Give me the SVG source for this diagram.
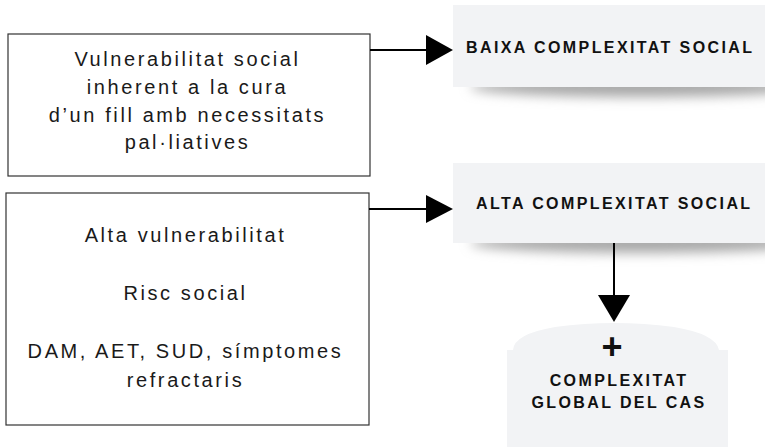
<svg xmlns="http://www.w3.org/2000/svg" width="765" height="447" viewBox="0 0 765 447">
  <defs>
    <style>
      .src { fill: #ffffff; stroke: #333333; stroke-width: 1.2; }
      .src-text { font-family: "Liberation Sans", Arial, sans-serif; font-size: 20px; letter-spacing: 2.6px; fill: #1a1a1a; text-anchor: middle; }
      .card { fill: #f2f3f5; }
      .card-text { font-family: "Liberation Sans", Arial, sans-serif; font-size: 16px; font-weight: bold; letter-spacing: 2.4px; fill: #111111; }
      .wire { stroke: #000000; stroke-width: 2; fill: none; }
      .head { fill: #000000; }
      .shade { fill: #a8a8a8; filter: url(#soft); }
    </style>
    <filter id="soft" x="-20%" y="-200%" width="140%" height="500%">
      <feGaussianBlur stdDeviation="6"/>
    </filter>
    <clipPath id="belowTop"><rect x="440" y="87" width="325" height="30"/></clipPath>
    <clipPath id="belowMid"><rect x="440" y="243" width="325" height="30"/></clipPath>
  </defs>

  <!-- left source boxes -->
  <g id="node-vulnerabilitat">
    <rect class="src" x="8" y="34" width="362" height="142"/>
    <text class="src-text" x="187.5" y="66">Vulnerabilitat social</text>
    <text class="src-text" x="187.5" y="94">inherent a la cura</text>
    <text class="src-text" x="187.5" y="122">d’un fill amb necessitats</text>
    <text class="src-text" x="187.5" y="149">pal·liatives</text>
  </g>

  <g id="node-alta-vulnerabilitat">
    <rect class="src" x="6" y="193" width="363" height="232"/>
    <text class="src-text" x="185.5" y="242">Alta vulnerabilitat</text>
    <text class="src-text" x="185.5" y="300">Risc social</text>
    <text class="src-text" x="185.5" y="358">DAM, AET, SUD, símptomes</text>
    <text class="src-text" x="185.5" y="387">refractaris</text>
  </g>

  <!-- right outcome cards with soft drop shadows -->
  <g id="node-baixa">
    <g clip-path="url(#belowTop)">
      <ellipse class="shade" cx="640" cy="87" rx="170" ry="10"/>
    </g>
    <rect class="card" x="453" y="5" width="320" height="82"/>
    <text class="card-text" x="466" y="53">BAIXA COMPLEXITAT SOCIAL</text>
  </g>

  <g id="node-alta">
    <g clip-path="url(#belowMid)">
      <ellipse class="shade" cx="640" cy="243" rx="170" ry="10"/>
    </g>
    <rect class="card" x="453" y="163" width="320" height="80"/>
    <text class="card-text" x="476" y="209">ALTA COMPLEXITAT SOCIAL</text>
  </g>

  <g id="node-global">
    <path class="card" d="M507,350 H513 Q514,334 555,327 Q614,319 674,327 Q716,334 719,350 H728 V447 H507 Z"/>
    <text x="612" y="359" font-family="Liberation Sans, Arial, sans-serif" font-size="36" font-weight="bold" fill="#111111" text-anchor="middle">+</text>
    <text class="card-text" x="619" y="386" text-anchor="middle">COMPLEXITAT</text>
    <text class="card-text" x="619" y="408" text-anchor="middle">GLOBAL DEL CAS</text>
  </g>

  <!-- connectors -->
  <g id="connectors">
    <line class="wire" x1="370" y1="50" x2="428" y2="50"/>
    <polygon class="head" points="426,35 453,50 426,65"/>
    <line class="wire" x1="369" y1="209" x2="428" y2="209"/>
    <polygon class="head" points="426,195 453,209 426,223"/>
    <line class="wire" x1="614" y1="243" x2="614" y2="297"/>
    <polygon class="head" points="598,295 630,295 614,322"/>
  </g>
</svg>
